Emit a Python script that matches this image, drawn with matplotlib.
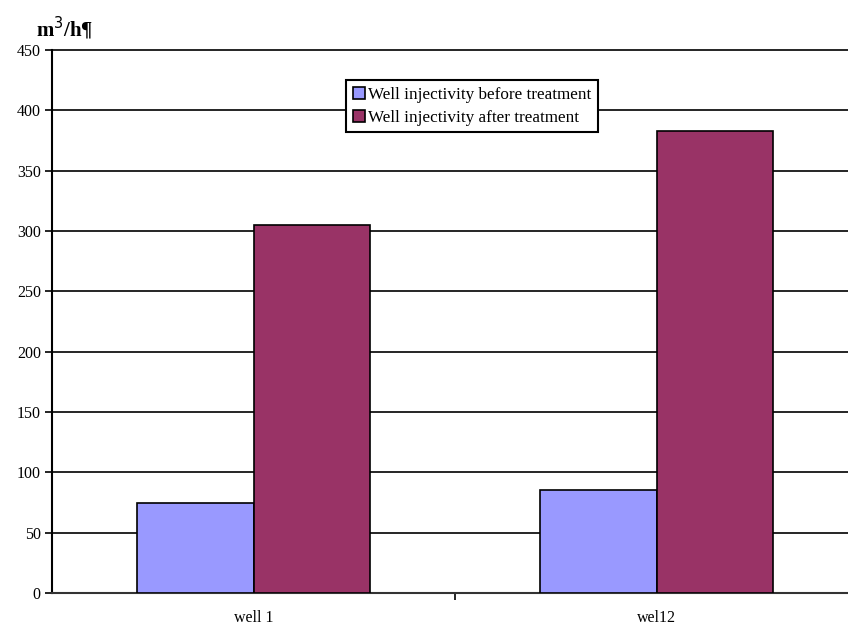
import numpy as np
import matplotlib.pyplot as plt

plt.rcParams['font.family'] = ['Liberation Serif', 'DejaVu Serif']

wells = ['well 1', 'wel12']
before = [75, 85]
after = [305, 383]

fig = plt.figure(figsize=(8.48, 6.3), dpi=100)
ax = fig.add_axes([0.0613, 0.0587, 0.9387, 0.8619])

x = np.arange(len(wells))
w = 0.288
ax.bar(x - w / 2, before, w, color='#9999FF', edgecolor='black', linewidth=1.2,
       label='Well injectivity before treatment', zorder=3)
ax.bar(x + w / 2, after, w, color='#993366', edgecolor='black', linewidth=1.2,
       label='Well injectivity after treatment', zorder=3)

ax.set_ylim(0, 450)
ax.set_yticks(np.arange(0, 451, 50))
ax.set_xlim(-0.5, 1.475)
ax.yaxis.grid(True, color='black', linewidth=1.2, zorder=0)
for gl in ax.get_ygridlines():
    gl.set_clip_on(False)

# category labels centred, ticks on category boundaries
ax.set_xticks(x)
ax.set_xticklabels(wells, fontsize=11.5)
ax.tick_params(axis='x', length=0, pad=12)
ax.set_xticks([0.5], minor=True)
ax.tick_params(axis='x', which='minor', length=5, width=1.2, direction='out')
ax.tick_params(axis='y', length=5, width=1.2, labelsize=11.5, pad=3)

for s in ['top', 'right']:
    ax.spines[s].set_visible(False)
ax.spines['left'].set_linewidth(1.5)
ax.spines['bottom'].set_linewidth(1.5)
ax.spines['bottom'].set_color('#333333')

fig.text(0.043, 0.955, 'm$^3$/h¶', fontsize=15, fontweight='bold', ha='left', va='center')

leg = ax.legend(loc='upper left', bbox_to_anchor=(0.369, 0.945), fontsize=12.3,
                frameon=True, fancybox=False, edgecolor='black', framealpha=1,
                handlelength=0.7, handleheight=0.7, handletextpad=0.2,
                borderpad=0.4, labelspacing=0.4, borderaxespad=0)
leg.get_frame().set_linewidth(1.5)
leg.set_zorder(5)

fig.savefig('out.png', dpi=100)
